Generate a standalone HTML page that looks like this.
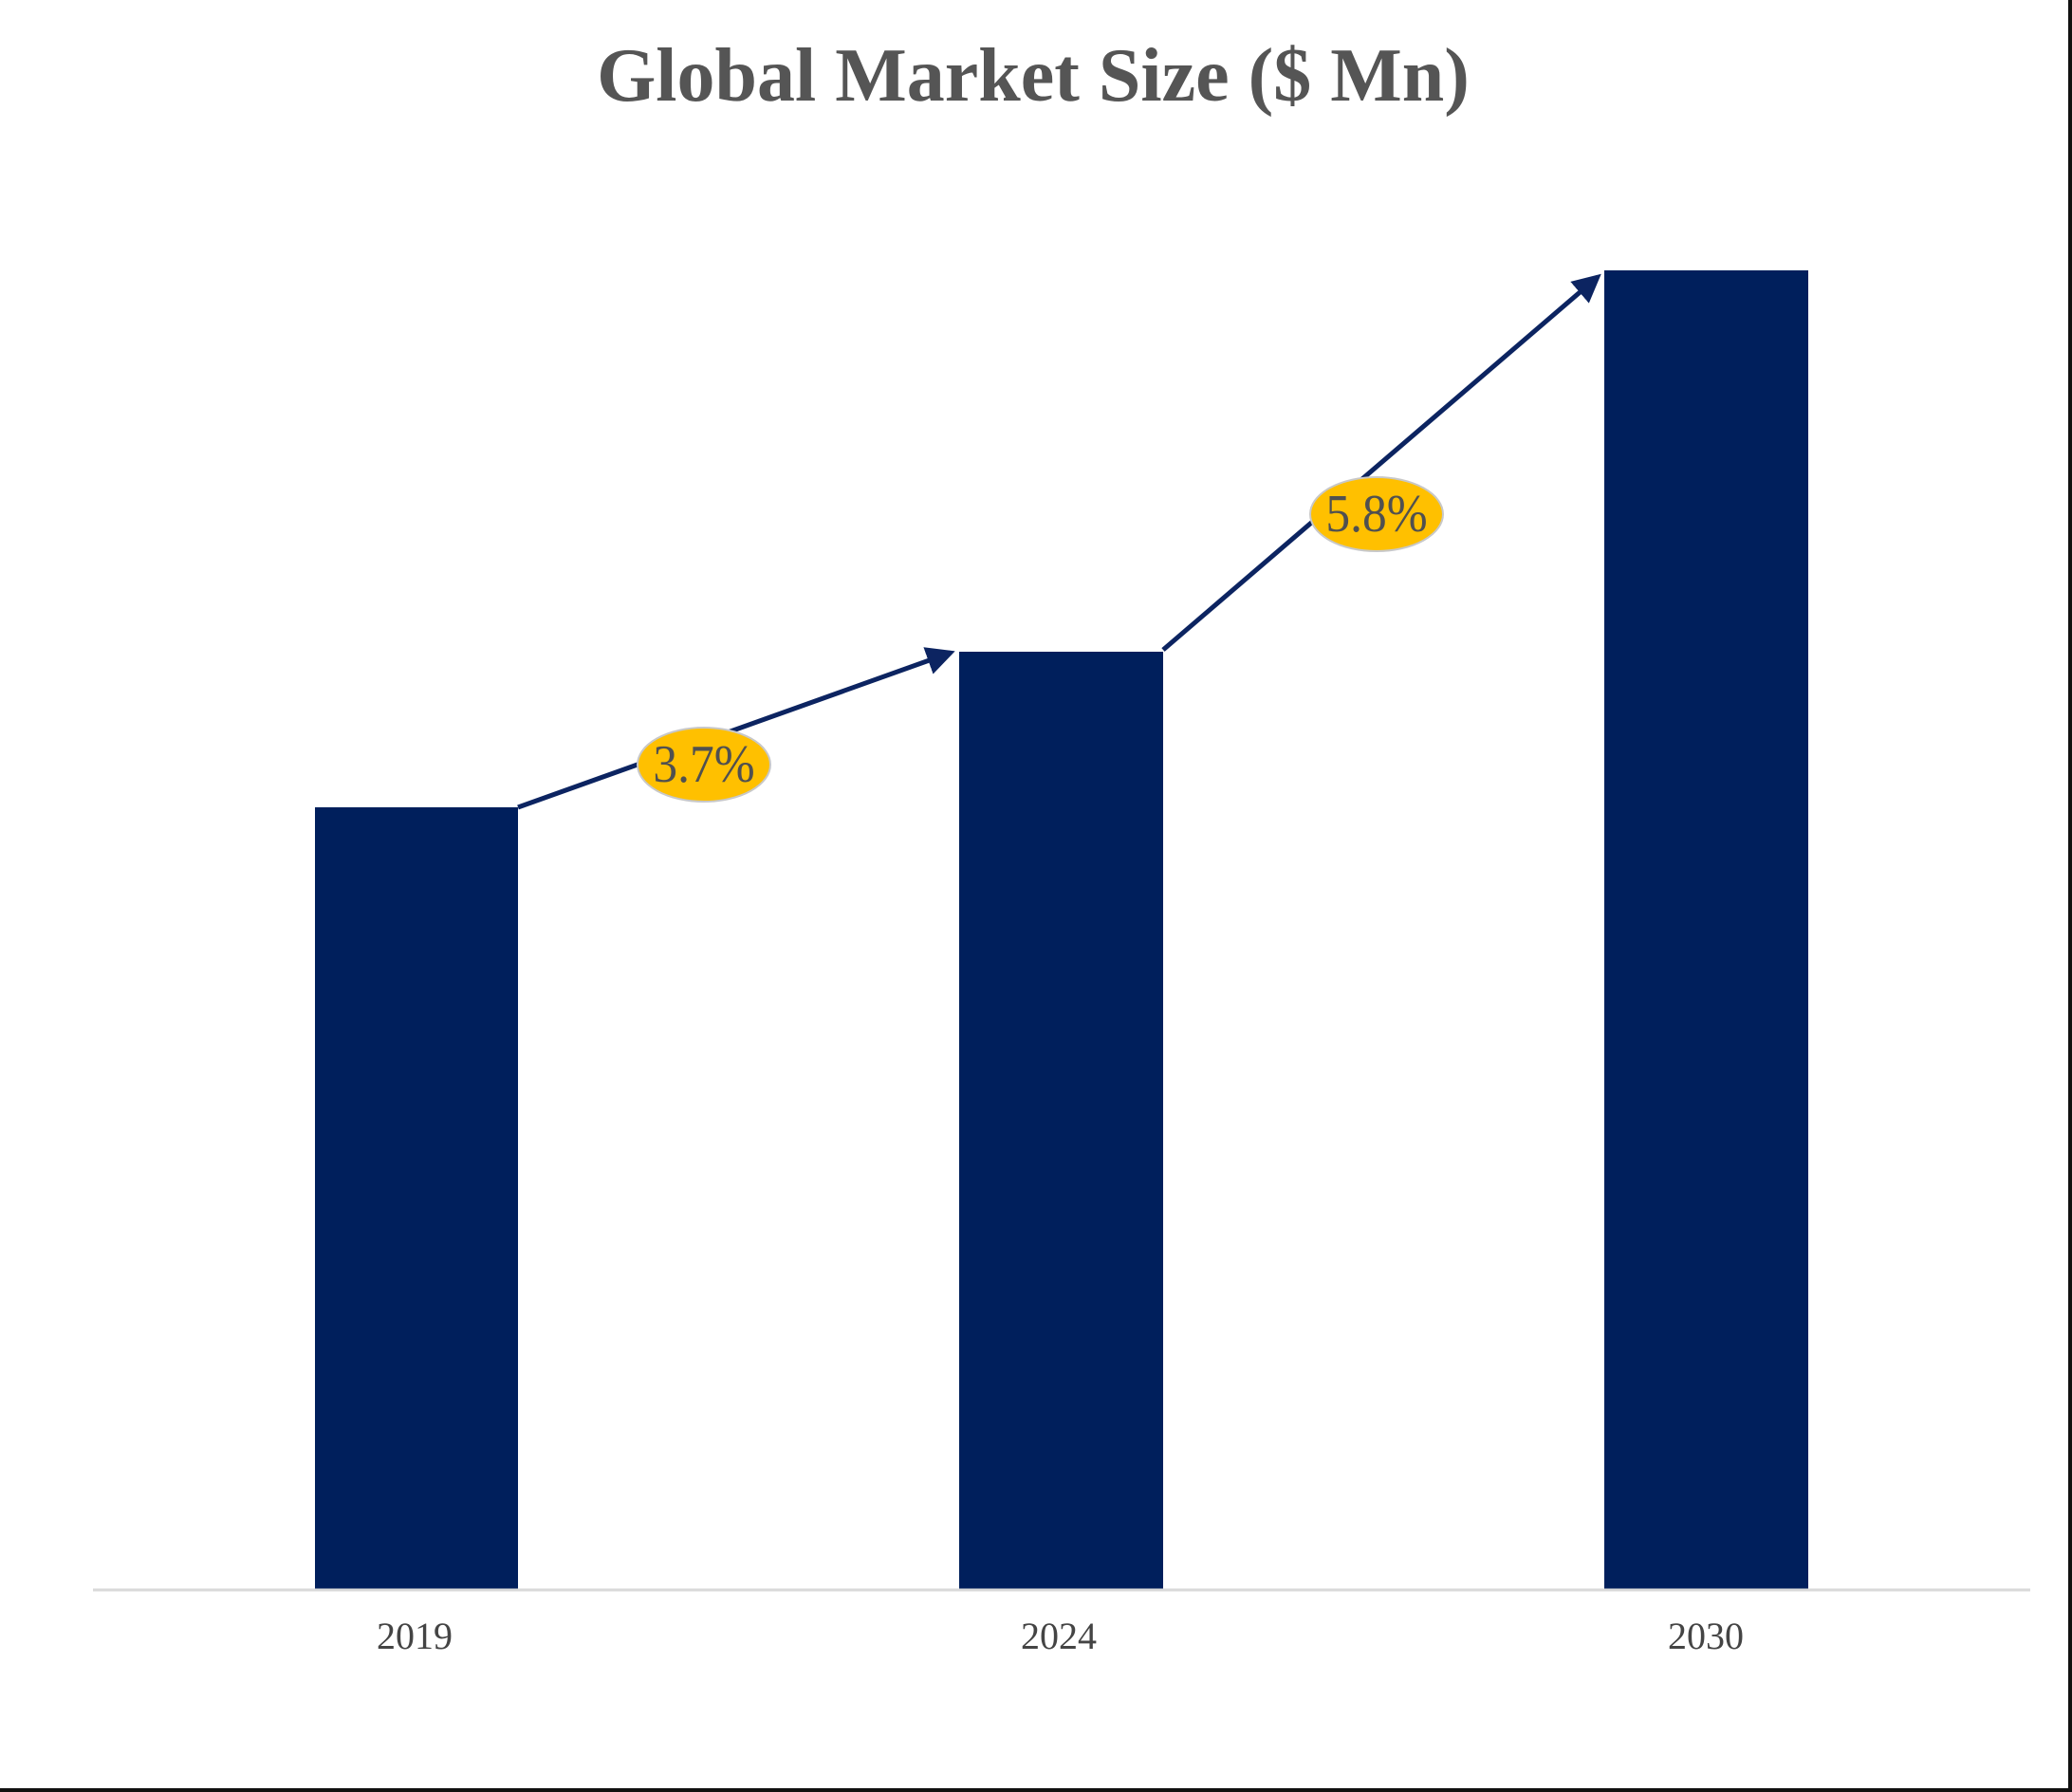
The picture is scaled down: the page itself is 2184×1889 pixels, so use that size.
<!DOCTYPE html>
<html><head><meta charset="utf-8"><style>
html,body{margin:0;padding:0;background:#fff;}
svg{display:block;}
</style></head><body>
<svg width="2184" height="1889" viewBox="0 0 2184 1889" xmlns="http://www.w3.org/2000/svg">
<defs>
<marker id="ah" markerWidth="6" markerHeight="6" refX="5" refY="3" orient="auto" markerUnits="strokeWidth">
<path d="M0,0 L6,3 L0,6 z" fill="#0c2461"/>
</marker>
</defs>
<rect width="2184" height="1889" fill="#fff"/>
<text x="1089" y="106" text-anchor="middle" font-family="Liberation Serif, serif" font-weight="bold" font-size="80" fill="#555">Global Market Size ($ Mn)</text>
<rect x="332" y="851" width="214" height="824" fill="#001f5c"/>
<rect x="1011" y="687" width="215" height="988" fill="#001f5c"/>
<rect x="1691" y="285" width="215" height="1390" fill="#001f5c"/>
<line x1="98" y1="1676" x2="2140" y2="1676" stroke="#d9d9d9" stroke-width="3"/>
<line x1="546" y1="851" x2="1002" y2="688" stroke="#0c2461" stroke-width="5" marker-end="url(#ah)"/>
<line x1="1226" y1="685" x2="1684" y2="292" stroke="#0c2461" stroke-width="5" marker-end="url(#ah)"/>
<ellipse cx="742" cy="806" rx="70" ry="39" fill="#ffc000" stroke="#c8c8c8" stroke-width="2"/>
<ellipse cx="1451" cy="542" rx="70" ry="39" fill="#ffc000" stroke="#c8c8c8" stroke-width="2"/>
<text x="742" y="824" text-anchor="middle" font-family="Liberation Serif, serif" font-size="56" fill="#505050" transform="translate(742 0) scale(0.92 1) translate(-742 0)">3.7%</text>
<text x="1451" y="560" text-anchor="middle" font-family="Liberation Serif, serif" font-size="56" fill="#505050" transform="translate(1451 0) scale(0.92 1) translate(-1451 0)">5.8%</text>
<text x="437" y="1738" text-anchor="middle" font-family="Liberation Serif, serif" font-size="40" fill="#444">2019</text>
<text x="1116" y="1738" text-anchor="middle" font-family="Liberation Serif, serif" font-size="40" fill="#444">2024</text>
<text x="1798" y="1738" text-anchor="middle" font-family="Liberation Serif, serif" font-size="40" fill="#444">2030</text>
<line x1="2182" y1="0" x2="2182" y2="1889" stroke="#111" stroke-width="4"/>
<line x1="0" y1="1887" x2="2184" y2="1887" stroke="#111" stroke-width="4"/>
</svg>
</body></html>
